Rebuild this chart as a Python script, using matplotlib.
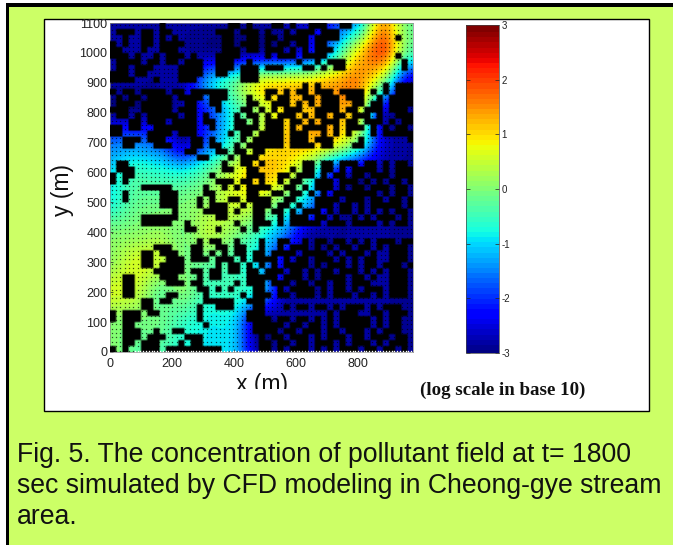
"""Pollutant concentration field with buildings, CFD figure panel."""

import matplotlib

matplotlib.use("Agg")
import matplotlib.pyplot as plt
import numpy as np
from matplotlib.colors import ListedColormap
from matplotlib.patches import Rectangle

plt.rcParams["font.family"] = ["Liberation Sans", "DejaVu Sans"]
plt.rcParams["axes.unicode_minus"] = False

W, H = 673, 545
GREEN = "#ccff66"

x_grid = [0, 80, 160, 240, 320, 400, 480, 560, 640, 720, 800, 880, 960]
y_grid = [1100, 1000, 900, 800, 700, 600, 500, 400, 300, 200, 100, 0]
log_conc = [
    [-2.8, -2.8, -2.8, -2.8, -2.8, -2.8, -2.8, -2.7, -2.5, -2.0, -1.0, 1.3, 0.0],
    [-2.8, -2.8, -2.8, -2.8, -2.8, -2.8, -2.7, -2.6, -2.2, -0.9, 0.9, 1.8, -0.2],
    [-2.8, -2.8, -2.8, -2.6, -1.2, -0.3, 0.7, 0.9, 1.0, 1.3, 1.5, 0.0, -2.4],
    [-2.85, -2.85, -2.8, -2.7, -1.9, -0.6, 0.3, 1.0, 1.2, 1.3, 0.8, -2.4, -2.8],
    [-1.6, -1.5, -1.8, -2.6, -1.6, -0.4, 0.6, 1.1, 1.2, 0.9, -0.2, -2.4, -2.8],
    [-0.9, -0.5, -0.6, -0.7, -0.2, 0.6, 1.2, 0.9, -0.2, -2.0, -2.7, -2.8, -2.85],
    [-0.7, -0.2, -0.1, 0.0, 0.2, 0.6, 0.5, -0.2, -1.2, -2.6, -2.8, -2.8, -2.85],
    [0.0, 0.1, 0.2, 0.0, 0.4, 0.1, -0.5, -1.4, -2.6, -2.8, -2.8, -2.8, -2.85],
    [0.2, 0.6, 0.5, 0.0, -0.2, -0.4, -1.0, -2.4, -2.8, -2.8, -2.8, -2.8, -2.85],
    [0.6, 0.5, -0.1, 0.0, -0.5, -0.5, -1.0, -2.6, -2.8, -2.8, -2.8, -2.8, -2.85],
    [0.1, 0.0, -0.1, -0.5, -0.8, -1.0, -2.8, -2.8, -2.8, -2.8, -2.8, -2.8, -2.85],
    [0.1, -0.2, -0.3, -0.7, -0.9, -1.1, -2.8, -2.8, -2.8, -2.8, -2.8, -2.8, -2.85],
]

# building footprint, 20 m cells, top row is y = 1100
buildings_left = [
    "........#..........##.#..", ".###.##.##.......###.###.",
    "..#..##.#.#.......##..##.", "#.#..##.####......##.###.",
    "##...#..###.......###.##.", "###.#..#.###.#...####....",
    ".####.##.##.###..###..#..", ".##.###....####..###.###.",
    "###.##.....####..##..###.", "####...#...###.......###.",
    ".........................", "#.##.####.##.######......",
    ".#.##.####.####.###...#..", ".###.#####..##..##....##.",
    "###..#####.###...#...##.#", ".##.#.#####.##.#....#.##.",
    "...##.###.####.##...##.#.", "##.##..#######..#...####.",
    "##....####.###.....#.##.#", "..###.###....##.#....#.##",
    "..##...###...##.##..#.###", "............##...##.##.##",
    "..............##...#.###.", ".##...............#..##.#",
    ".###..............##..##.", "#.##............#.....###",
    "#.#..............###.##.#", ".....#####.....#..#.#.###",
    "..#.....###....##.....##.", "..#.....###...#.#..##.###",
    "........###...#.###..#.##", "..........#....####.#..##",
    ".....######......##....##", ".....#####..#.......#..##",
    "............##...#...#.#.", ".........................",
    "..............#.##..#...#", ".......###...##..##.##..#",
    ".....##.###..##.#.#.##.##", ".....##..###.###.###.#.##",
    ".....##.####.....#.##.#.#", ".......#####.##.##.##.##.",
    "..##....###...#.##....###", "..##.....###.##.....#.###",
    "..##..........##.#.#...##", "..##.....##....#.....#.##",
    ".....##.##.....#####..###", ".....##.......#..###...##",
    "#.###.##......#.......###", "#.###.........#.......###",
    "..##...........#.......##", "..###..#..##...........##",
    "..###.###...###.........#", "..##.###...#.##.........#",
    "#.#..###.#########......#",
]
buildings_right = [
    ".##.#..###..##..........", "#..#.###.###............",
    "##.####.####.........#..", "#.##.##.##..............",
    "###.#.#.###.............", "#.###.####...........#..",
    ".....#..#.###.........#.", "###...##.#.##.........#.",
    "........................", "........................",
    "......#.#..........#.###", "##.#.##.###.####.#.#.###",
    "#.##..##.###.###..#.####", ".###.#.#.###..##.##.####",
    ".#.###..####.##.###.###.", "#.###.#.##.##.###.#..###",
    "###.##.#.###.##.###.#.##", "###.#.####.#.###.#.#.##.",
    "###.###..#.#.#...#.#####", "###.###.###....#.......#",
    "###.####.##...##........", "........................",
    "........................", "......##.##.###.##.#.##.",
    "....#.##.##.#.####.#.###", "..##.###.#.##.##.###.###",
    "..#.##..###.###.#.#.##.#", "#..##.#.###.#.##.###.##.",
    ".##.##.#.#.#######.#.##.", "#..##...####.###.##.##.#",
    "#.##.#..###.##.#.#####.#", ".##.#.###.#.##.#.#.#.##.",
    "..#.###.##.#..#.#.###.#.", "#.#.#####.###.####.#.##.",
    "........................", "........................",
    "..##..#.##.##.#.#.###.##", "..#.###.#.#.##.##.#.###.",
    ".####.####.#.###.#..###.", "##.#.##.###.#.#.##..###.",
    ".#.####.#.###.#.##.###.#", "###.##.#.##.###.#.#.###.",
    "##.###.#.####.##.#..###.", ".###.##.##.##.###...###.",
    "..#.####.#.##.#.###.###.", "#.##.###.#.###.##.#.###.",
    "........................", "...#.##.##.#.###.#.###..",
    "..........#.###..##.###.", "#.##.##.#.#.#####.#.##..",
    "###.##.##.#.#####.#.##..", "##.##.###.##.###.#.###..",
    ".##.###.#.###.##.###.##.", "#.##.##.###.#.###.#.###.",
    "#.#.###.#.#.###.##.##.#.",
]

x_ticks = [0, 200, 400, 600, 800]
y_ticks = [0, 100, 200, 300, 400, 500, 600, 700, 800, 900, 1000, 1100]
cbar_ticks = [-3, -2, -1, 0, 1, 2, 3]
caption = [
    "Fig. 5. The concentration of pollutant field at t= 1800",
    "sec simulated by CFD modeling in Cheong-gye stream",
    "area.",
]


def px_rect(x0, y0, x1, y1):
    """Figure-fraction [left, bottom, width, height] from image pixels."""
    return [x0 / W, 1 - y1 / H, (x1 - x0) / W, (y1 - y0) / H]


fig = plt.figure(figsize=(W / 100, H / 100), dpi=100, facecolor=GREEN)

# page furniture: white margin, black rule, white panel
for x0, y0, x1, y1, fc, ec in [
    (0, 0, 6, H, "white", "none"),
    (0, 0, W, 3, "white", "none"),
    (6, 3, 9, H, "black", "none"),
    (6, 3, W, 6.5, "black", "none"),
    (43.5, 18.5, 649, 410.5, "white", "black"),
]:
    l, b, w, h = px_rect(x0, y0, x1, y1)
    fig.add_artist(Rectangle((l, b), w, h, transform=fig.transFigure,
                             facecolor=fc, edgecolor=ec, linewidth=1.0, zorder=-5))

jet64 = ListedColormap(plt.get_cmap("jet")(np.linspace(0, 1, 64)))

ax = fig.add_axes(px_rect(110, 23, 413, 352))
dx = x_grid[1] - x_grid[0]
dy = y_grid[0] - y_grid[1]
im = ax.imshow(
    np.array(log_conc),
    cmap=jet64,
    vmin=-3,
    vmax=3,
    interpolation="catrom",
    origin="upper",
    aspect="auto",
    extent=(x_grid[0] - dx / 2, x_grid[-1] + dx / 2, y_grid[-1] - dy / 2, y_grid[0] + dy / 2),
    zorder=1,
)

# velocity vectors show up as a fine lattice of dark specks
xs, ys = np.meshgrid(np.arange(5, 977, 14), np.arange(5, 1100, 14.5))
ax.plot(xs.ravel(), ys.ravel(), linestyle="none", marker="s", markersize=0.9,
        markeredgewidth=0, color="black", alpha=0.7, zorder=2)

rows = [a.ljust(25, ".")[:25] + b.ljust(24, ".")[:24] for a, b in zip(buildings_left, buildings_right)]
mask = np.array([[c == "#" for c in row] for row in rows], dtype=float)
# repeat the cells so the bilinear soft edge stays about one pixel wide
mask = np.repeat(np.repeat(mask, 3, axis=0), 3, axis=1)
rgba = np.zeros(mask.shape + (4,))
rgba[..., 3] = mask
ax.imshow(rgba, interpolation="bilinear", origin="upper", aspect="auto",
          extent=(0, 980, 0, 1100), zorder=3)

# white specks along the lower boundary
speck_x = np.arange(80, 977, 9)
ax.plot(speck_x, np.full(len(speck_x), 3), linestyle="none",
        marker="s", markersize=1.0, markeredgewidth=0, color="white", zorder=4)

ax.set_xlim(0, 977)
ax.set_ylim(0, 1100)
ax.set_xticks(x_ticks)
ax.set_yticks(y_ticks)
ax.tick_params(direction="in", length=2, width=0.5, labelsize=9, colors="#222222", pad=2)
ax.tick_params(axis="x", pad=4)
for spine in ax.spines.values():
    spine.set_linewidth(0.5)
    spine.set_color("#888888")

fig.text(262 / W, 1 - 384 / H, "x (m)", fontsize=16.5, ha="center", va="center", color="#111111")
fig.text(62 / W, 1 - 190 / H, "y (m)", fontsize=16.5, ha="center", va="center",
         rotation=90, color="#111111")
# the x label is cut off at its lower edge in the source
fig.add_artist(Rectangle((200 / W, 1 - 400 / H), 150 / W, 11 / H, transform=fig.transFigure,
                         facecolor="white", edgecolor="none", zorder=6))

cax = fig.add_axes(px_rect(466, 25, 499, 353))
cbar = fig.colorbar(im, cax=cax)
cbar.set_ticks(cbar_ticks)
cbar.ax.tick_params(direction="in", length=3, width=0.5, labelsize=7, colors="#222222",
                    pad=2, left=True)
cbar.outline.set_linewidth(0.5)
cbar.outline.set_edgecolor("#444444")
cbar.solids.set_edgecolor("face")

fig.text(502.5 / W, 1 - 390 / H, "(log scale in base 10)", family="Liberation Serif",
         weight="bold", fontsize=13.6, ha="center", va="center", color="#111111")

for line, y in zip(caption, [455, 486, 517]):
    fig.text(17 / W, 1 - y / H, line, fontsize=19.15, ha="left", va="center", color="#111111")

fig.savefig("out.png", dpi=100, facecolor=GREEN)
